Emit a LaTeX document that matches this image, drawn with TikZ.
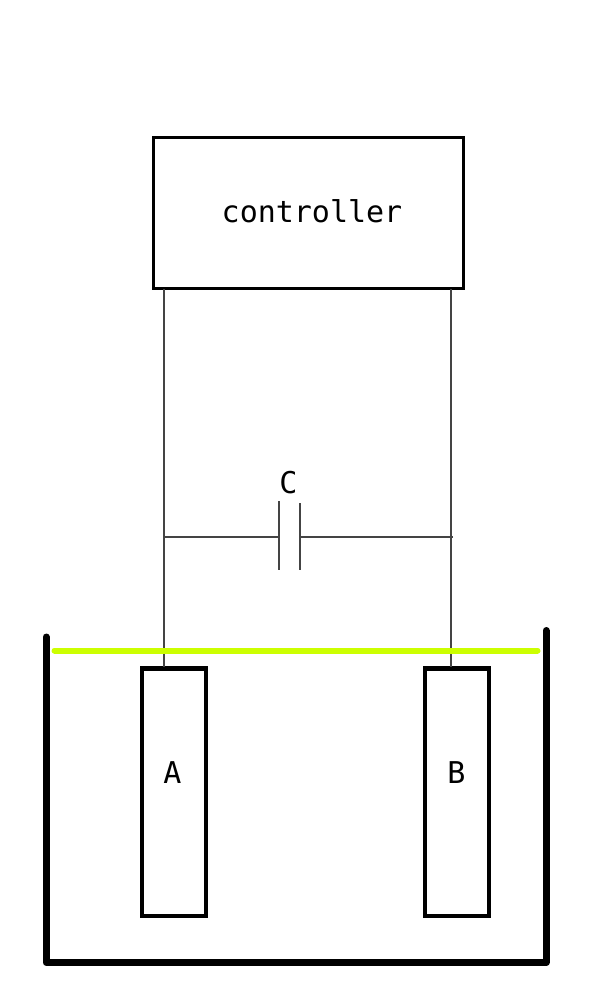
\documentclass[tikz,border=0pt]{standalone}
\usepackage{fontspec}
\setmonofont{DejaVu Sans Mono}
\usepackage{tikz}
\usetikzlibrary{positioning, calc}
\definecolor{waterline}{HTML}{CCFF00}
\definecolor{wirecol}{HTML}{444444}
\tikzstyle{ctrlbox}=[draw,line width=3pt,minimum width=310.5pt,minimum height=151pt,inner sep=0pt]
\tikzstyle{electrode}=[draw,line width=4.5pt,minimum width=64pt,minimum height=247.5pt,inner sep=0pt]
\tikzstyle{tag}=[font=\ttfamily\fontsize{30}{36}\selectfont,inner sep=0pt]
\tikzstyle{wire}=[draw=wirecol,line width=1.7pt]
\tikzstyle{vessel}=[line width=7pt,line cap=round,line join=round]
\tikzstyle{level}=[line width=6pt,line cap=round,draw=waterline]

\begin{document}
\begin{tikzpicture}[x=1pt,y=-1pt]
    \useasboundingbox (0,0) rectangle (602,1000);
    \node [ctrlbox] (ctrl) at (308.5,213) {};
    \node [tag] (ctrltext) at (312,211.5) {controller};
    \node [electrode] (elecA) at (174,792) {};
    \node [electrode] (elecB) at (457,792) {};
    \node [tag] (textA) at (172.5,773) {A};
    \node [tag] (textB) at (456.5,773) {B};
    \node [tag] (textC) at (288.5,483) {C};
    % capacitor plates
    \coordinate (capLtop) at (279,501);
    \coordinate (capLbot) at (279,569.5);
    \coordinate (capRtop) at (300,503);
    \coordinate (capRbot) at (300,570);
    \coordinate (capL) at (279,536.7);
    \coordinate (capR) at (300,536.7);
    \coordinate (jointA) at (164,536.7);
    \coordinate (jointB) at (453,536.7);
    \coordinate (ctrlA) at (164,289);
    \coordinate (ctrlB) at (451,289);
    \coordinate (topA) at (164,667);
    \coordinate (topB) at (451,667);
    \draw [wire] (ctrlA) -- (topA);
    \draw [wire] (ctrlB) -- (topB);
    \draw [wire] (jointA) -- (capL);
    \draw [wire] (capR) -- (jointB);
    \draw [wire] (capLtop) -- (capLbot);
    \draw [wire] (capRtop) -- (capRbot);
    % tank and liquid level
    \coordinate (tankL) at (46.2,637);
    \coordinate (tankBL) at (46.2,962.5);
    \coordinate (tankBR) at (546,962.5);
    \coordinate (tankR) at (546,630.5);
    \coordinate (levelL) at (54.5,650.5);
    \coordinate (levelR) at (537.5,650.5);
    \draw [vessel] (tankL) -- (tankBL) -- (tankBR) -- (tankR);
    \draw [level] (levelL) -- (levelR);
\end{tikzpicture}
\end{document}
